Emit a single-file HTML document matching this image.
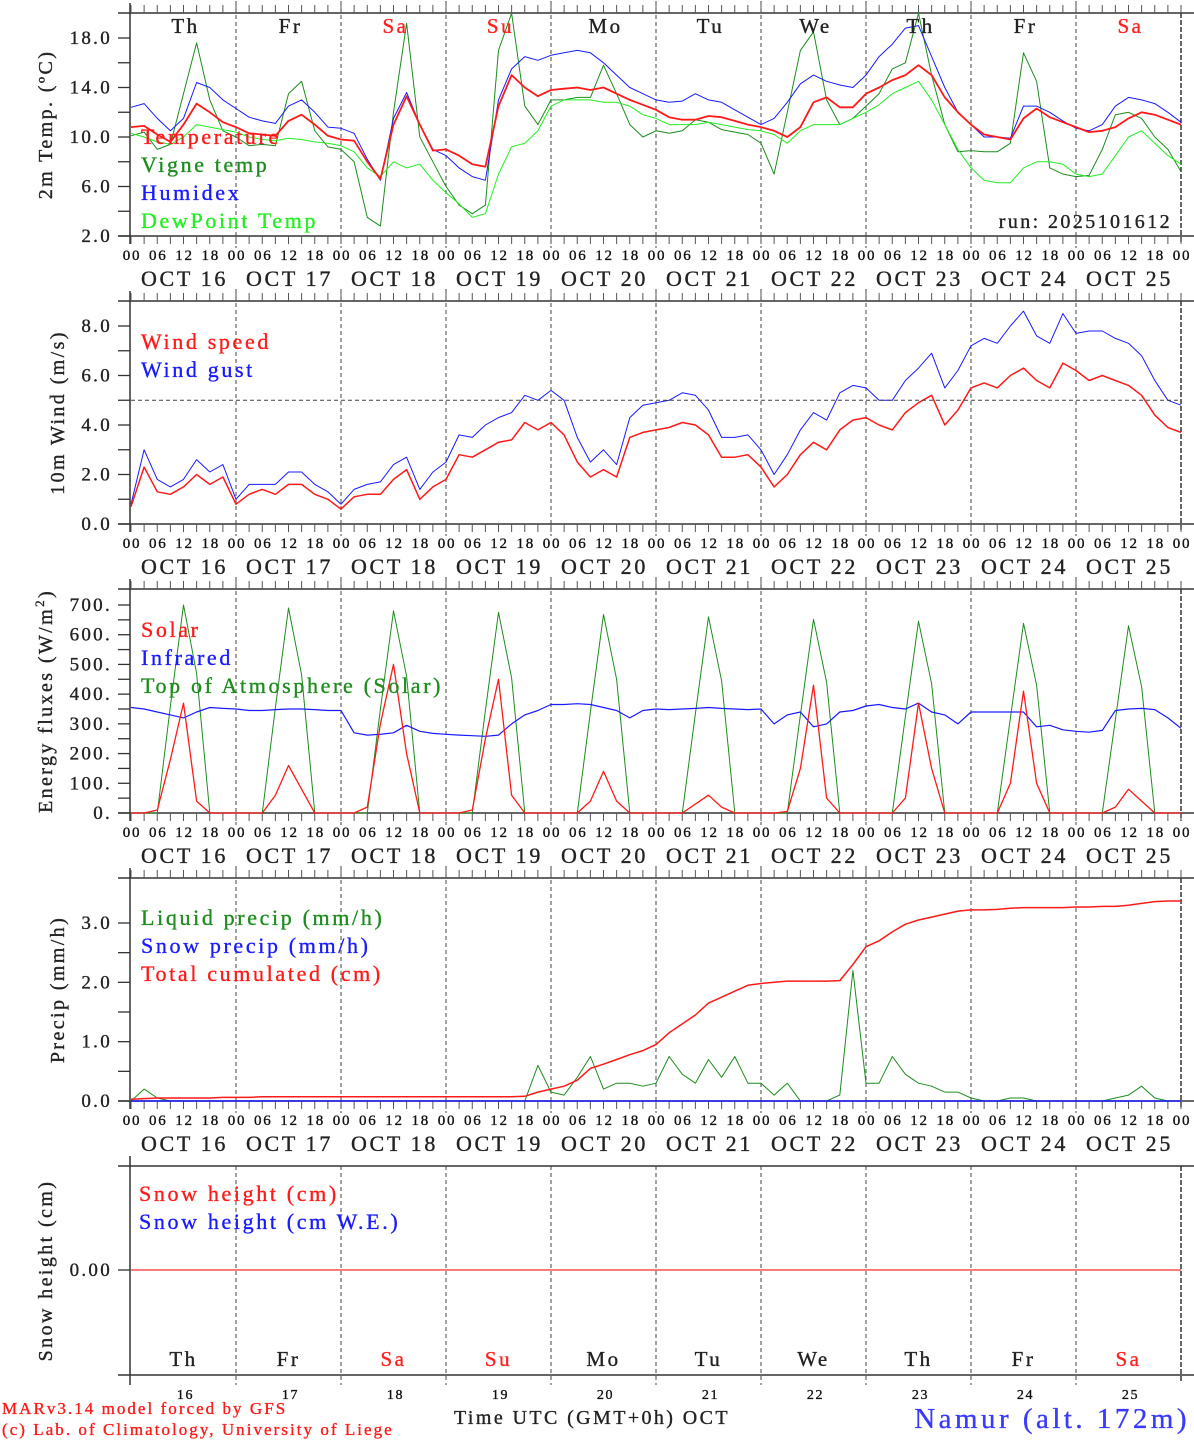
<!DOCTYPE html>
<html><head><meta charset="utf-8">
<style>
html,body{margin:0;padding:0;background:#fff;}
svg{display:block;font-family:"Liberation Serif","DejaVu Serif",serif;}
svg text{letter-spacing:0.12em;}
</style></head>
<body>
<svg id="chart" width="1194" height="1440" viewBox="0 0 1194 1440"></svg>
<script>
// ---- data (3-hourly, 00 UTC Oct 16 to 00 UTC Oct 26) ----
const days = ["16","17","18","19","20","21","22","23","24","25"];
const dayNames = ["Th","Fr","Sa","Su","Mo","Tu","We","Th","Fr","Sa"];
const hourLabels = ["00","06","12","18"];
const tempTicks = [2,6,10,14,18];
const windTicks = [0,2,4,6,8];
const fluxTicks = [0,100,200,300,400,500,600,700];
const precipTicks = [0,1,2,3];
const temperature = [10.8,10.9,10.2,9.6,11.0,12.7,12.0,11.2, 10.8,10.3,10.2,10.1,11.3,11.8,11.0,10.1, 9.8,9.7,8.0,6.6,11.0,13.3,11.0,8.9, 9.0,8.5,7.8,7.6,12.5,15.0,14.0,13.3, 13.8,13.9,14.0,13.8,14.0,13.5,13.0,12.6, 12.2,11.6,11.4,11.4,11.7,11.6,11.3,11.0, 10.8,10.5,10.0,10.8,12.8,13.2,12.4,12.4, 13.5,14.0,14.6,15.0,15.8,15.0,13.2,12.0, 11.0,10.2,10.0,9.8,11.5,12.3,11.6,11.2, 10.8,10.4,10.5,10.8,11.5,12.0,11.8,11.4, 11.0];
const vigneTemp = [10.1,10.4,9.0,9.4,13.5,17.6,13.0,10.5, 10.0,9.3,9.4,9.3,13.5,14.5,10.5,9.2, 9.0,8.0,3.5,2.8,12.0,19.2,10.0,8.0, 6.0,4.5,3.8,4.5,17.0,20.0,12.5,11.0, 13.0,13.0,13.2,13.2,15.8,13.5,11.0,10.0, 10.5,10.3,10.5,11.4,11.2,10.6,10.4,10.2, 9.5,7.0,12.0,17.0,18.5,13.0,11.0,11.5, 12.5,13.5,15.5,16.0,20.0,15.0,11.0,8.8, 8.9,8.8,8.8,9.5,16.8,14.5,7.5,7.0, 6.8,6.9,9.0,11.8,12.0,11.5,10.0,9.0, 7.2];
const humidex = [12.4,12.7,11.5,10.5,11.5,14.4,14.0,13.0, 12.3,11.6,11.3,11.1,12.5,13.0,12.0,10.8, 10.7,10.3,8.2,6.5,11.5,13.6,11.0,9.0, 8.5,7.5,6.8,6.5,13.0,15.5,16.5,16.2, 16.6,16.8,17.0,16.8,16.0,15.0,14.0,13.5, 13.0,12.8,12.9,13.5,13.0,12.8,12.2,11.6, 11.0,11.5,12.8,14.3,15.0,14.5,14.2,14.0, 15.0,16.5,17.5,18.8,19.0,16.5,14.0,12.0, 11.0,10.0,10.0,9.9,12.5,12.5,12.0,11.3, 10.7,10.5,11.0,12.5,13.2,13.0,12.7,12.0, 11.2];
const dewPoint = [10.3,10.0,9.6,9.4,10.0,11.0,10.8,10.6, 10.4,10.0,9.8,9.7,9.9,9.8,9.6,9.5, 9.3,8.8,7.5,6.8,8.0,7.5,7.8,6.5, 5.5,4.6,3.5,3.8,7.0,9.2,9.5,10.5, 12.5,13.0,13.0,13.0,12.8,12.8,12.5,11.8, 11.5,11.0,11.0,11.0,11.2,11.0,10.8,10.6, 10.5,10.2,9.5,10.5,11.0,11.0,11.0,11.5, 12.0,12.6,13.5,14.0,14.5,13.0,11.0,9.0, 7.5,6.5,6.3,6.3,7.5,8.0,8.0,7.8, 7.0,6.8,7.0,8.5,10.0,10.5,9.5,8.5, 7.8];
const windSpeed = [0.7,2.3,1.3,1.2,1.5,2.0,1.6,1.9, 0.8,1.2,1.4,1.2,1.6,1.6,1.2,1.0, 0.6,1.1,1.2,1.2,1.8,2.2,1.0,1.5, 1.8,2.8,2.7,3.0,3.3,3.4,4.1,3.8, 4.1,3.6,2.5,1.9,2.2,1.9,3.5,3.7, 3.8,3.9,4.1,4.0,3.6,2.7,2.7,2.8, 2.3,1.5,2.0,2.8,3.3,3.0,3.8,4.2, 4.3,4.0,3.8,4.5,4.9,5.2,4.0,4.6, 5.5,5.7,5.5,6.0,6.3,5.8,5.5,6.5, 6.2,5.8,6.0,5.8,5.6,5.2,4.4,3.9, 3.7];
const windGust = [0.8,3.0,1.8,1.5,1.8,2.6,2.1,2.4, 1.0,1.6,1.6,1.6,2.1,2.1,1.6,1.3, 0.8,1.4,1.6,1.7,2.4,2.7,1.4,2.1, 2.5,3.6,3.5,4.0,4.3,4.5,5.2,5.0, 5.4,5.0,3.5,2.5,3.0,2.4,4.3,4.8, 4.9,5.0,5.3,5.2,4.6,3.5,3.5,3.6, 3.0,2.0,2.8,3.8,4.5,4.2,5.3,5.6, 5.5,5.0,5.0,5.8,6.3,6.9,5.5,6.2, 7.2,7.5,7.3,8.0,8.6,7.6,7.3,8.5, 7.7,7.8,7.8,7.5,7.3,6.8,5.8,5.0, 4.8];
const solar = [0,0,10,180,370,40,0,0, 0,0,0,60,160,80,0,0, 0,0,20,300,500,200,0,0, 0,0,10,250,450,60,0,0, 0,0,0,40,140,40,0,0, 0,0,0,30,60,20,0,0, 0,0,5,150,430,50,0,0, 0,0,0,50,370,150,0,0, 0,0,0,100,410,100,0,0, 0,0,0,20,80,40,0,0, 0];
const infrared = [355,350,340,330,320,340,355,352, 350,345,345,348,350,350,348,345, 345,270,262,265,270,295,275,268, 265,262,260,258,262,300,330,345, 365,365,368,365,355,345,320,345, 350,348,350,352,355,352,350,348, 350,300,330,340,290,300,340,345, 360,365,355,350,370,340,330,300, 340,340,340,340,340,290,295,280, 275,272,278,345,350,352,348,320, 285];
const topAtmosphere = [0,0,0,360,700,470,0,0, 0,0,0,355,690,465,0,0, 0,0,0,350,680,460,0,0, 0,0,0,345,675,455,0,0, 0,0,0,340,668,450,0,0, 0,0,0,335,660,445,0,0, 0,0,0,330,652,440,0,0, 0,0,0,325,645,435,0,0, 0,0,0,320,638,430,0,0, 0,0,0,315,630,425,0,0, 0];
const liquidPrecip = [0,0.2,0.05,0,0,0,0,0, 0,0,0,0,0,0,0,0, 0,0,0,0,0,0,0,0, 0,0,0,0,0,0,0,0.6, 0.15,0.1,0.4,0.75,0.2,0.3,0.3,0.25, 0.3,0.75,0.45,0.3,0.7,0.4,0.75,0.3, 0.3,0.1,0.3,0,0,0,0.1,2.2, 0.3,0.3,0.75,0.45,0.3,0.25,0.15,0.15, 0.05,0,0,0.05,0.05,0,0,0, 0,0,0,0.05,0.1,0.25,0.05,0, 0];
const snowPrecip = [0,0,0,0,0,0,0,0, 0,0,0,0,0,0,0,0, 0,0,0,0,0,0,0,0, 0,0,0,0,0,0,0,0, 0,0,0,0,0,0,0,0, 0,0,0,0,0,0,0,0, 0,0,0,0,0,0,0,0, 0,0,0,0,0,0,0,0, 0,0,0,0,0,0,0,0, 0,0,0,0,0,0,0,0, 0];
const totalCumulated = [0.03,0.04,0.05,0.05,0.05,0.05,0.05,0.06, 0.06,0.06,0.07,0.07,0.07,0.07,0.07,0.07, 0.07,0.07,0.07,0.07,0.07,0.07,0.07,0.07, 0.07,0.07,0.07,0.07,0.07,0.07,0.08,0.15, 0.2,0.25,0.35,0.55,0.62,0.7,0.78,0.85, 0.95,1.15,1.3,1.45,1.65,1.75,1.85,1.95, 1.98,2.0,2.02,2.02,2.02,2.02,2.03,2.3, 2.6,2.7,2.85,2.98,3.05,3.1,3.15,3.2, 3.22,3.22,3.23,3.25,3.26,3.26,3.26,3.26, 3.27,3.27,3.28,3.28,3.3,3.33,3.36,3.37, 3.37];
const snowHeight = [0,0,0,0,0,0,0,0,0,0,0,0,0,0,0,0,0,0,0,0,0,0,0,0,0,0,0,0,0,0,0,0,0,0,0,0,0,0,0,0,0,0,0,0,0,0,0,0,0,0,0,0,0,0,0,0,0,0,0,0,0,0,0,0,0,0,0,0,0,0,0,0,0,0,0,0,0,0,0,0,0];
const snowHeightWE = snowHeight.slice();

const svg = document.getElementById('chart');
const NS = 'http://www.w3.org/2000/svg';
const X0 = 131, X1 = 1181, DAYW = (X1 - X0) / days.length;
function xh(h){ return X0 + h * DAYW / 24; }
function mk(tag, attrs, parent){ const e = document.createElementNS(NS, tag); for (const k in attrs) e.setAttribute(k, attrs[k]); (parent||svg).appendChild(e); return e; }
function txt(s, x, y, size, fill, anchor, parent){ const t = mk('text', {x:x, y:y, 'font-size':size, fill:fill||'#222', stroke:fill||'#222', 'stroke-width':0.35, 'text-anchor':anchor||'start'}, parent); t.textContent = s; return t; }

function panel(p){
  const g = mk('g', {});
  
  
  const y = v => p.bottom - (v - p.vmin) * (p.bottom - p.yRef) / (p.vRef - p.vmin);
  mk('line', {x1:118, y1:p.top, x2:1194, y2:p.top, stroke:'#333', 'stroke-width':1.5}, g);
  mk('line', {x1:118, y1:p.bottom, x2:1194, y2:p.bottom, stroke:'#333', 'stroke-width':1.5}, g);
  mk('line', {x1:130, y1:p.top-10, x2:130, y2:p.bottom+(p.hatchBottom?8:10), stroke:'#333', 'stroke-width':1.5}, g);
  mk('line', {x1:X1, y1:p.top, x2:X1, y2:p.bottom+8, stroke:'#333', 'stroke-width':1.5, 'stroke-dasharray':'5,2'}, g);
  for (let h = 0; h <= 240; h += 3){
    const x = xh(h);
    if (p.hatchTop) mk('line', {x1:x, y1:p.top-8, x2:x, y2:p.top, stroke:'#555', 'stroke-width':1}, g);
    if (p.hatchBottom) mk('line', {x1:x, y1:p.bottom, x2:x, y2:p.bottom+8, stroke:'#555', 'stroke-width':1}, g);
  }
  for (let d = 1; d < days.length; d++){
    const x = X0 + d * DAYW;
    const l = mk('line', {x1:x, y1:p.top-(p.hatchTop?12:0), x2:x, y2:p.bottom+(p.hatchBottom?12:10), stroke:'#444', 'stroke-width':1, 'stroke-dasharray':'4,3'}, g);
    
    
  }
  const step = p.ticks[1] - p.ticks[0];
  for (let v = p.ticks[0]; v <= p.ticks[p.ticks.length-1] + 1e-6; v += step/2){
    mk('line', {x1:118, y1:y(v), x2:130, y2:y(v), stroke:'#333', 'stroke-width':1.3}, g);
  }
  p.ticks.forEach(v => {
    const t = txt(p.fmt(v), 112, y(v)+6, 19, '#222', 'end', g);
    
    
  });
  const yt = mk('text', {x:0, y:0, 'font-size':20, fill:'#222', stroke:'#222', 'stroke-width':0.35, 'text-anchor':'middle', transform:'translate(' + p.titleX + ',' + ((p.top+p.bottom)/2) + ') rotate(-90)'}, g);
  yt.innerHTML = p.title;
  
  
  if (p.hatchBottom){
    for (let d = 0; d < days.length; d++){
      hourLabels.forEach((hl, k) => {
        const t = txt(hl, xh(d*24 + k*6)+1, p.bottom+24, 15, '#111', 'middle', g);
        
        
      });
      const dl = txt('OCT ' + days[d], X0 + (d+0.5)*DAYW + 1, p.bottom+50, 22, '#222', 'middle', g);
      
      
    }
    const t = txt('00', X1+1, p.bottom+24, 15, '#111', 'middle', g);
    
    
  }
  p.series.forEach(s => {
    const pts = s.data.map((v, i) => xh(i*3).toFixed(1) + ',' + Math.min(p.bottom, Math.max(p.top, y(v))).toFixed(1)).join(' ');
    const pl = mk('polyline', {points:pts, fill:'none', stroke:s.color, 'stroke-width':s.w||1.2, 'stroke-linejoin':'round'}, g);
    
    
  });
  return {g, y};
}
function legend(g, items, x, y0){
  items.forEach((l,i)=>{
    const t = txt(l[0], x, y0 + i*28, 22, l[1], 'start', g);
    
    
  });
}

const p1 = panel({name:'temperature-panel', top:13, bottom:236, vmin:2, yRef:38, vRef:18, ticks:tempTicks, fmt:v=>v.toFixed(1), title:'2m Temp. (<tspan>º</tspan>C)', titleX:52, hatchTop:true, hatchBottom:true,
  series:[{key:'vigne-temp',data:vigneTemp,color:'#1e8c1e',w:1},{key:'humidex',data:humidex,color:'#1a1aff',w:1},{key:'dewpoint',data:dewPoint,color:'#22ee22',w:1},{key:'temperature',data:temperature,color:'#ff1a1a',w:1.8}]});
legend(p1.g, [['Temperature','#ff1a1a'],['Vigne temp','#1e8c1e'],['Humidex','#1a1aff'],['DewPoint Temp','#22ee22']], 141, 144);
dayNames.forEach((n, d) => {
  const t = txt(n, X0 + (d+0.5)*DAYW + 2, 33, 21, (n==='Sa'||n==='Su') ? '#ff2020' : '#222', 'middle', p1.g);
  
  
});
const run = txt('run: 2025101612', 1172, 228, 20, '#222', 'end', p1.g);



const p2 = panel({name:'wind-panel', top:301, bottom:524, vmin:0, yRef:326, vRef:8, ticks:windTicks, fmt:v=>v.toFixed(1), title:'10m Wind (m/s)', titleX:64, hatchTop:true, hatchBottom:true,
  series:[{key:'wind-gust',data:windGust,color:'#1a1aff',w:1},{key:'wind-speed',data:windSpeed,color:'#ff1a1a',w:1.5}]});
mk('line', {x1:131, y1:p2.y(5), x2:1181, y2:p2.y(5), stroke:'#444', 'stroke-width':1, 'stroke-dasharray':'4,3'}, p2.g);
legend(p2.g, [['Wind speed','#ff1a1a'],['Wind gust','#1a1aff']], 141, 349);

const p3 = panel({name:'energy-flux-panel', top:589, bottom:813, vmin:0, yRef:605, vRef:700, ticks:fluxTicks, fmt:v=>v+'.', title:'Energy fluxes (W/m<tspan font-size="13" dy="-8">2</tspan><tspan dy="8">)</tspan>', titleX:52, hatchTop:true, hatchBottom:true,
  series:[{key:'top-of-atmosphere',data:topAtmosphere,color:'#1e8c1e',w:1},{key:'infrared',data:infrared,color:'#1a1aff',w:1.2},{key:'solar',data:solar,color:'#ff1a1a',w:1.3}]});
legend(p3.g, [['Solar','#ff1a1a'],['Infrared','#1a1aff'],['Top of Atmosphere (Solar)','#1e8c1e']], 141, 637);

const p4 = panel({name:'precip-panel', top:878, bottom:1101, vmin:0, yRef:923, vRef:3, ticks:precipTicks, fmt:v=>v.toFixed(1), title:'Precip (mm/h)', titleX:64, hatchTop:true, hatchBottom:true,
  series:[{key:'liquid-precip',data:liquidPrecip,color:'#1e8c1e',w:1},{key:'snow-precip',data:snowPrecip,color:'#1a1aff',w:1.5},{key:'total-cumulated',data:totalCumulated,color:'#ff1a1a',w:1.5}]});
legend(p4.g, [['Liquid precip (mm/h)','#1e8c1e'],['Snow precip (mm/h)','#1a1aff'],['Total cumulated (cm)','#ff1a1a']], 141, 925);

const p5 = panel({name:'snow-panel', top:1166, bottom:1375, vmin:-1, yRef:1270, vRef:0, ticks:[0], fmt:v=>v.toFixed(2), title:'Snow height (cm)', titleX:52, hatchTop:false, hatchBottom:false,
  series:[{key:'snow-height-we',data:snowHeightWE,color:'#1a1aff',w:1},{key:'snow-height',data:snowHeight,color:'#ff2a2a',w:1.3}]});
legend(p5.g, [['Snow height (cm)','#ff1a1a'],['Snow height (cm W.E.)','#1a1aff']], 139, 1201);
dayNames.forEach((n, d) => {
  const cx = X0 + (d+0.5)*DAYW;
  const t = txt(n, cx, 1366, 21, (n==='Sa'||n==='Su') ? '#ff2020' : '#222', 'middle', p5.g);
  
  
  const dn = txt(days[d], cx + 2, 1399, 14, '#111', 'middle', p5.g);
  
  
});

const xt = txt('Time UTC (GMT+0h) OCT', 592, 1424, 20, '#222', 'middle');


const c1 = txt('MARv3.14 model forced by GFS', 2, 1414, 17, '#ff1a1a', 'start');


const c2 = txt('(c) Lab. of Climatology, University of Liege', 2, 1435, 17, '#ff1a1a', 'start');


const loc = txt('Namur (alt. 172m)', 1190, 1428, 29, '#3a3aff', 'end');


</script>
</body></html>
